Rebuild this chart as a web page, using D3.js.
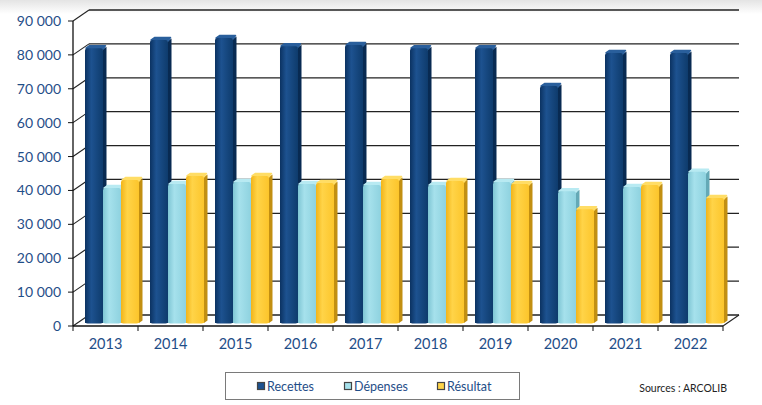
<!DOCTYPE html>
<html lang="fr">
<head>
  <meta charset="UTF-8">
  <title>Recettes, dépenses et résultat 2013-2022</title>
  <script src="https://cdn.jsdelivr.net/npm/d3@7"></script>
  <style>
    html, body {
      margin: 0;
      padding: 0;
      background: #fff;
    }
    svg text {
      font-family: Lato, "Open Sans", sans-serif;
    }
  </style>
</head>
<body>
  <svg id="chart" width="762" height="405"></svg>
  <script>
    // values (euros)
    var years = ["2013", "2014", "2015", "2016", "2017", "2018", "2019", "2020", "2021", "2022"];
    var seriesNames = ["Recettes", "Dépenses", "Résultat"];
    var recettes = [81100, 83500, 84100, 81700, 82000, 81100, 81100, 69900, 79700, 79700];
    var depenses = [39800, 41000, 41600, 41000, 40700, 40700, 41600, 38900, 40100, 44600];
    var resultat = [42200, 43400, 43400, 41300, 42500, 41900, 41000, 33600, 40700, 36900];
    var yTicks = [0, 10000, 20000, 30000, 40000, 50000, 60000, 70000, 80000, 90000];

    var seriesValues = [recettes, depenses, resultat];
    var colors = [
      { front: ["#0b3261", "#1d5290", "#0e3b6c"], side: "#082a52", top: "#2a5f9c" },
      { front: ["#7fc6d4", "#a6e1ec", "#8ed2df"], side: "#64a9b6", top: "#b8eaf2" },
      { front: ["#f2b419", "#ffd448", "#fcc52b"], side: "#c28f12", top: "#ffdd66" }
    ];

    var svg = d3.select("#chart");

    // depth of the box (back wall offset) and of the bars
    var wall = { dx: 16, dy: -11 };
    var barShift = { dx: 4.4, dy: -3 };
    var barDepth = { dx: 3.5, dy: -2.5 };

    var x = d3.scaleBand().domain(years).range([73, 723]);
    var x1 = d3.scaleBand().domain(seriesNames).range([7.6, 61.6]);
    var y = d3.scaleLinear().domain([0, 90000]).range([326, 21]);

    var fr = d3.formatLocale({ decimal: ",", thousands: " ", grouping: [3], currency: ["", "€"] });
    var fmt = fr.format(",.0f");

    // top grey band
    var defs = svg.append("defs");
    var bg = defs.append("linearGradient").attr("id", "bg").attr("x1", 0).attr("x2", 0).attr("y1", 0).attr("y2", 1);
    bg.append("stop").attr("offset", 0).attr("stop-color", "#e4e4e4");
    bg.append("stop").attr("offset", 1).attr("stop-color", "#ffffff");
    svg.append("rect").attr("x", 0).attr("y", 0).attr("width", 762).attr("height", 14).attr("fill", "url(#bg)");

    colors.forEach(function(c, i) {
      var g = defs.append("linearGradient").attr("id", "bar" + i);
      g.append("stop").attr("offset", 0).attr("stop-color", c.front[0]);
      g.append("stop").attr("offset", 0.35).attr("stop-color", c.front[1]);
      g.append("stop").attr("offset", 1).attr("stop-color", c.front[2]);
    });

    // back wall gridlines
    var x0 = x.range()[0], xEnd = x.range()[1];
    svg.append("g").selectAll("line").data(yTicks).join("line")
      .attr("x1", x0 + wall.dx).attr("x2", xEnd + wall.dx)
      .attr("y1", d => y(d) + wall.dy).attr("y2", d => y(d) + wall.dy)
      .attr("stroke", "#222").attr("stroke-width", 1.3);

    // side wall diagonals
    svg.append("g").selectAll("line").data(yTicks).join("line")
      .attr("x1", x0).attr("x2", x0 + wall.dx)
      .attr("y1", d => y(d)).attr("y2", d => y(d) + wall.dy)
      .attr("stroke", "#222").attr("stroke-width", 1.1);

    // floor right diagonal
    svg.append("line")
      .attr("x1", xEnd).attr("x2", xEnd + wall.dx)
      .attr("y1", y(0)).attr("y2", y(0) + wall.dy)
      .attr("stroke", "#222").attr("stroke-width", 1.1);

    // bars
    var groups = svg.append("g").selectAll("g").data(years).join("g")
      .attr("transform", d => `translate(${x(d) + barShift.dx},${barShift.dy})`);

    seriesNames.forEach(function(name, s) {
      groups.each(function(year, i) {
        var v = seriesValues[s][i];
        var bx = x1(name), bw = x1.bandwidth();
        var top = y(v), base = y(0);
        var g = d3.select(this);
        var c = colors[s];
        // side face
        g.append("path")
          .attr("d", `M${bx + bw},${top + 1} l${barDepth.dx},${barDepth.dy} L${bx + bw + barDepth.dx},${base + barDepth.dy} L${bx + bw},${base} Z`)
          .attr("fill", c.side);
        // top face
        g.append("path")
          .attr("d", `M${bx + 1},${top} l${barDepth.dx},${barDepth.dy} L${bx + bw + barDepth.dx - 1},${top + barDepth.dy} L${bx + bw},${top + 1} Z`)
          .attr("fill", c.top)
          .attr("stroke", c.top).attr("stroke-width", 1.5).attr("stroke-linejoin", "round");
        // front face
        g.append("rect")
          .attr("x", bx).attr("y", top).attr("width", bw).attr("height", base - top + 0.5)
          .attr("rx", 2.5)
          .attr("fill", "url(#bar" + s + ")");
        g.append("rect")
          .attr("x", bx).attr("y", top + 4).attr("width", bw).attr("height", base - top - 4)
          .attr("fill", "url(#bar" + s + ")");
      });
    });

    // front axis
    svg.append("line").attr("x1", x0).attr("x2", x0).attr("y1", y(90000)).attr("y2", y(0))
      .attr("stroke", "#111").attr("stroke-width", 1.3);
    svg.append("line").attr("x1", x0).attr("x2", xEnd).attr("y1", y(0)).attr("y2", y(0))
      .attr("stroke", "#111").attr("stroke-width", 1.3);

    svg.append("g").selectAll("line").data(yTicks).join("line")
      .attr("x1", x0 - 5).attr("x2", x0).attr("y1", d => y(d)).attr("y2", d => y(d))
      .attr("stroke", "#111");
    svg.append("g").selectAll("line").data(d3.range(years.length + 1)).join("line")
      .attr("x1", d => x0 + d * x.step()).attr("x2", d => x0 + d * x.step())
      .attr("y1", y(0)).attr("y2", y(0) + 5)
      .attr("stroke", "#111");

    svg.append("g").selectAll("text").data(yTicks).join("text")
      .attr("x", 61).attr("y", d => y(d)).attr("dy", "0.36em")
      .attr("text-anchor", "end")
      .attr("font-size", 14).attr("fill", "#1f4e88")
      .text(d => fmt(d));

    svg.append("g").selectAll("text").data(years).join("text")
      .attr("x", d => x(d) + x.bandwidth() / 2).attr("y", 344).attr("dy", "0.36em")
      .attr("text-anchor", "middle")
      .attr("font-size", 14.5).attr("fill", "#1f4e88")
      .text(d => d);

    // legend
    var legend = svg.append("g");
    legend.append("rect").attr("x", 225.5).attr("y", 372.5).attr("width", 294).attr("height", 27)
      .attr("fill", "#fff").attr("stroke", "#7a7a7a");
    var legendX = [257, 344, 437];
    seriesNames.forEach(function(name, s) {
      legend.append("rect").attr("x", legendX[s] + 0.5).attr("y", 382.5).attr("width", 7).attr("height", 7)
        .attr("fill", colors[s].front[1]).attr("stroke", "#444").attr("stroke-width", 1.2);
      legend.append("text").attr("x", legendX[s] + 10).attr("y", 386).attr("dy", "0.36em")
        .attr("font-size", 12.5).attr("fill", "#1f4e88").text(name);
    });

    svg.append("text").attr("x", 727).attr("y", 388).attr("dy", "0.36em")
      .attr("text-anchor", "end").attr("font-size", 10.5).attr("fill", "#222")
      .text("Sources : ARCOLIB");
  </script>
</body>
</html>
